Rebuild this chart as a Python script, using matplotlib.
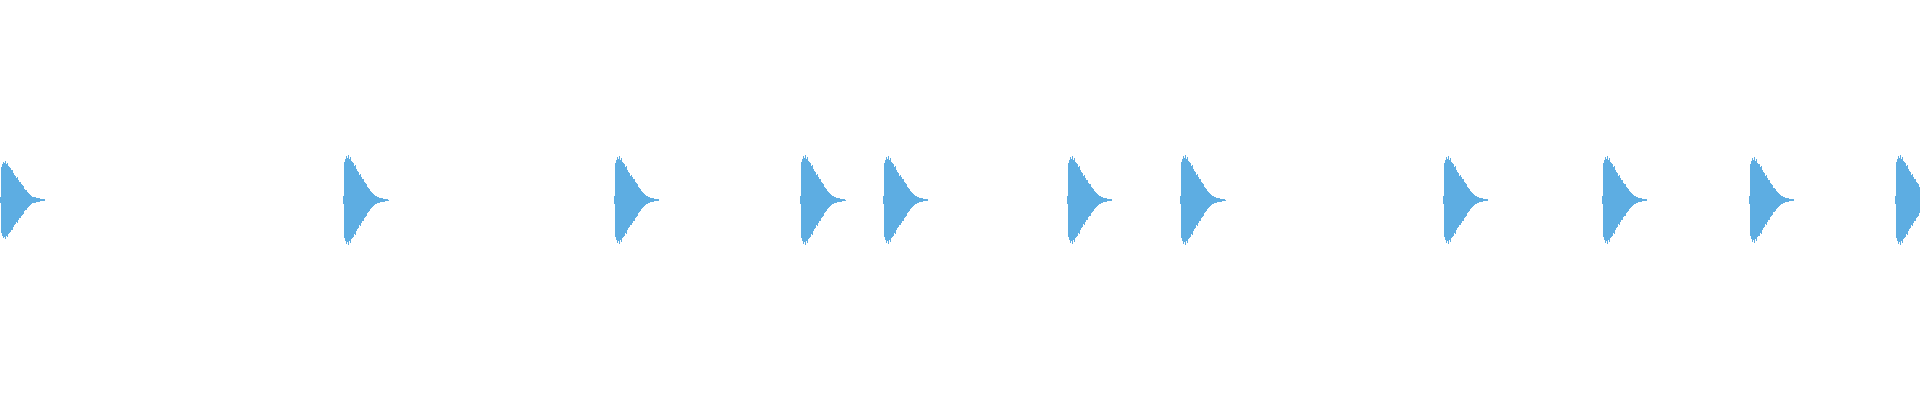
import numpy as np
import matplotlib
matplotlib.use("Agg")
import matplotlib.pyplot as plt

# clip length on the time axis (ms) and hit onsets
duration = 1920
onsets = [0, 343, 614, 800, 883, 1067, 1180, 1443, 1602, 1749, 1895]
gains = [0.87, 1.0, 0.98, 1.0, 0.98, 0.97, 1.0, 0.98, 0.97, 0.96, 1.0]

# one hit's peak envelope (fraction of full scale), 1 ms per step
hit_env = [0.020, 0.190, 0.205, 0.220, 0.210, 0.225, 0.205, 0.215, 0.195, 0.190,
           0.185, 0.170, 0.175, 0.155, 0.145, 0.140, 0.125, 0.130, 0.115, 0.105,
           0.105, 0.090, 0.085, 0.080, 0.065, 0.060, 0.055, 0.045, 0.040, 0.035,
           0.030, 0.025, 0.020, 0.020, 0.015, 0.015, 0.0125, 0.010, 0.010, 0.010,
           0.0075, 0.0075, 0.005, 0.005, 0.005, 0.0025]

color = "#5dade2"

fig = plt.figure(figsize=(19.2, 4.0), dpi=100)
ax = fig.add_axes([0, 0, 1, 1])

env = np.array(hit_env)
for t0, g in zip(onsets, gains):
    t = t0 + np.arange(len(env) + 1)
    a = np.append(env, env[-1]) * g
    ax.fill_between(t, -a, a, step="post", color=color, linewidth=0)

ax.set_xlim(0, duration)
ax.set_ylim(-1, 1)
ax.axis("off")

fig.savefig("out.png", dpi=100, facecolor="white")
